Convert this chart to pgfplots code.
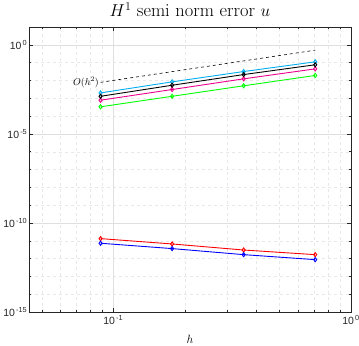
\documentclass[border=0pt]{standalone}
\usepackage{pgfplots}
\pgfplotsset{compat=1.18}
\usepackage{fontspec}
\newfontfamily\helv{Liberation Sans}
\definecolor{axgray}{rgb}{0.15,0.15,0.15}
\begin{document}
\begin{tikzpicture}
\begin{axis}[
  xmode=log, ymode=log,
  scale only axis,
  width=322bp, height=285bp,
  xmin=0.0441942, xmax=1,
  ymin=1e-15, ymax=1e1,
  xtick={0.1,1},
  xticklabels={{10\textsuperscript{\,-1}},{10\textsuperscript{\,0}}},
  minor xtick={0.05,0.06,0.07,0.08,0.09,0.2,0.3,0.4,0.5,0.6,0.7,0.8,0.9},
  ytick={1e-15,1e-10,1e-5,1},
  yticklabels={{10\textsuperscript{\,-15}},{10\textsuperscript{\,-10}},{10\textsuperscript{\,-5}},{10\textsuperscript{\,0}}},
  minor ytick={1e-14,1e-13,1e-12,1e-11,1e-9,1e-8,1e-7,1e-6,1e-4,1e-3,1e-2,1e-1,1e1},
  tick label style={font=\helv\fontsize{10.5}{12}\selectfont, text=axgray},
  yticklabel style={inner sep=1.5pt},
  grid=both,
  major grid style={gray!25, line width=0.4pt},
  minor grid style={gray!18, dashed, line width=0.3pt},
  tick align=inside,
  major tick length=4pt, minor tick length=2.2pt,
  every tick/.style={axgray, line width=0.4pt},
  axis line style={axgray, line width=0.5pt},
  title={$H^1$ semi norm error $u$},
  title style={font=\fontsize{18.5}{21}\selectfont, at={(0.5,1)}, anchor=base, yshift=4.5bp, inner sep=0.5pt},
  xlabel={$h$},
  xlabel style={font=\fontsize{13}{14}\selectfont, at={(0.5,0)}, anchor=base, yshift=-31bp, inner sep=1pt},
  every axis plot/.append style={line width=0.9pt, mark=diamond, mark size=2.1pt, mark options={solid, fill=white}},
]
\coordinate (A) at (rel axis cs:0,0);
\coordinate (B) at (rel axis cs:1,1);
\addplot[black, dashed, line width=0.6pt, mark=none] coordinates {(0.0883883,0.0078125) (0.1767767,0.03125) (0.3535534,0.125) (0.7071068,0.5)};
\node[anchor=east, inner sep=1.5pt, font=\fontsize{10}{11}\selectfont] at (axis cs:0.0883883,0.0078125) {$O(h^2)$};
\addplot[green] coordinates {(0.0883883,3.311e-4) (0.1767767,1.288e-3) (0.3535534,5.012e-3) (0.7071068,1.905e-2)};
\addplot[magenta] coordinates {(0.0883883,7.762e-4) (0.1767767,3.090e-3) (0.3535534,1.230e-2) (0.7071068,4.467e-2)};
\addplot[cyan] coordinates {(0.0883883,1.995e-3) (0.1767767,8.318e-3) (0.3535534,3.162e-2) (0.7071068,1.109e-1)};
\addplot[black] coordinates {(0.0883883,1.288e-3) (0.1767767,5.370e-3) (0.3535534,2.138e-2) (0.7071068,7.586e-2)};
\addplot[red] coordinates {(0.0883883,1.318e-11) (0.1767767,6.607e-12) (0.3535534,3.020e-12) (0.7071068,1.660e-12)};
\addplot[blue] coordinates {(0.0883883,7.244e-12) (0.1767767,3.631e-12) (0.3535534,1.660e-12) (0.7071068,8.710e-13)};
\end{axis}
\pgfresetboundingbox
\path ([shift={(-29bp,-34bp)}]A) rectangle ([shift={(8bp,27bp)}]B);
\end{tikzpicture}
\end{document}
